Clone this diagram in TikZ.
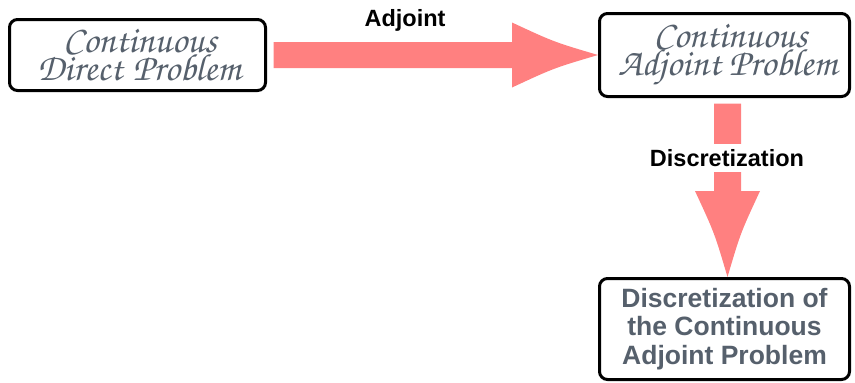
\documentclass[tikz,border=0pt]{standalone}
\usepackage{fontspec}
\setmainfont{Liberation Sans}
\usetikzlibrary{calc}
\definecolor{boxtext}{RGB}{86,96,108}
\definecolor{arrowpink}{RGB}{255,128,128}
\newcommand{\chancery}{\usefont{OT1}{pzc}{mb}{it}}
\tikzset{
  probbox/.style={draw=black, line width=3pt, rounded corners=8pt, fill=white,
    align=center, text=boxtext, inner sep=0pt},
  calli/.style={font=\chancery\fontsize{38}{28}\selectfont, text=boxtext, anchor=base, inner sep=0pt},
  sansbold/.style={font=\bfseries\fontsize{26.5}{28.5}\selectfont},
  arrowlabel/.style={font=\bfseries\fontsize{23.5}{25}\selectfont, text=black},
  bigarrow/.style={fill=arrowpink, draw=none}
}
\begin{document}
\begin{tikzpicture}[x=1pt,y=-1pt]
\useasboundingbox (0,0) rectangle (855,383);
\node[probbox, minimum width=256pt, minimum height=71pt] (b1) at (137.5,55) {};
\node[calli] (t1a) at ($(b1.center)+(2.5,-3)$) {Continuous};
\node[calli] (t1b) at ($(b1.center)+(1.5,25)$) {Direct\hspace{2pt} Problem};
\node[probbox, minimum width=250pt, minimum height=83pt] (b2) at (724.5,55) {};
\node[calli] (t2a) at ($(b2.center)+(6,-8)$) {Continuous};
\node[calli] (t2b) at ($(b2.center)+(3,20)$) {Adjoint Problem};
\node[probbox, sansbold, minimum width=250pt, minimum height=101pt] (b3) at (724.5,329) {Discretization of\\the Continuous\\Adjoint Problem};
% horizontal arrow
\coordinate (hs) at ($(b1.east)+(6.5,0)$);
\coordinate (ht) at (b2.west);
\fill[bigarrow] ($(hs)+(0,-13)$) -- ($(ht)+(-86,-13)$) -- ($(ht)+(-86,-32.5)$)
  .. controls ($(ht)+(-44,-13)$) .. (ht)
  .. controls ($(ht)+(-44,13)$) .. ($(ht)+(-86,32.5)$) -- ($(ht)+(-86,13)$) -- ($(hs)+(0,13)$) -- cycle;
\node[arrowlabel] (la) at (405,20) {Adjoint};
% vertical arrow
\coordinate (vs) at ($(b2.south)+(3,5.5)$);
\coordinate (vt) at ($(b3.north)+(3,0)$);
\fill[bigarrow] ($(vs)+(-13.5,0)$) -- ($(vt)+(-13.5,-86)$) -- ($(vt)+(-32.5,-86)$)
  .. controls ($(vt)+(-13,-44)$) .. (vt)
  .. controls ($(vt)+(13,-44)$) .. ($(vt)+(32.5,-86)$) -- ($(vt)+(13.5,-86)$) -- ($(vs)+(13.5,0)$) -- cycle;
\node[arrowlabel, fill=white, inner xsep=2pt, inner ysep=5pt] (ld) at (727,158) {Discretization};
\end{tikzpicture}
\end{document}
